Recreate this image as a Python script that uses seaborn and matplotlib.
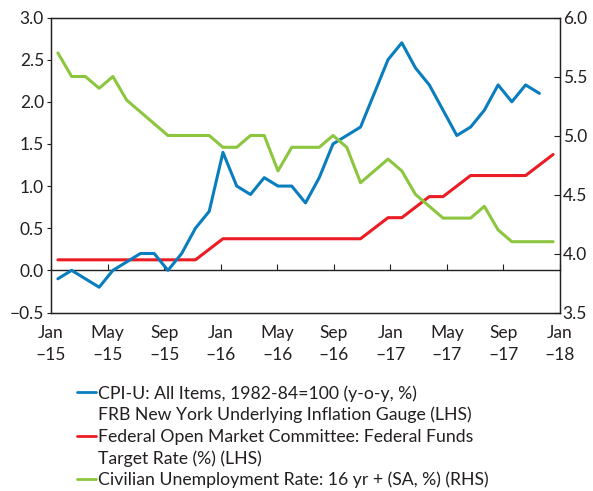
import numpy as np
import pandas as pd
import matplotlib
matplotlib.use("Agg")
import matplotlib.pyplot as plt
from matplotlib.lines import Line2D
import seaborn as sns

# monthly data, Jan-15 .. Jan-18
cpi = [-0.1, 0.0, -0.1, -0.2, 0.0, 0.1, 0.2, 0.2, 0.0, 0.2, 0.5, 0.7,
       1.4, 1.0, 0.9, 1.1, 1.0, 1.0, 0.8, 1.1, 1.5, 1.6, 1.7, 2.1,
       2.5, 2.7, 2.4, 2.2, 1.9, 1.6, 1.7, 1.9, 2.2, 2.0, 2.2, 2.1]
fed_funds = [0.125] * 11 + [0.25] + [0.375] * 11 + [0.5,
             0.625, 0.625, 0.75, 0.875, 0.875, 1.0, 1.125, 1.125, 1.125, 1.125, 1.125, 1.25,
             1.375]
unemp = [5.7, 5.5, 5.5, 5.4, 5.5, 5.3, 5.2, 5.1, 5.0, 5.0, 5.0, 5.0,
         4.9, 4.9, 5.0, 5.0, 4.7, 4.9, 4.9, 4.9, 5.0, 4.9, 4.6, 4.7,
         4.8, 4.7, 4.5, 4.4, 4.3, 4.3, 4.3, 4.4, 4.2, 4.1, 4.1, 4.1,
         4.1]
tick_labels = ["Jan\n\u201315", "May\n\u201315", "Sep\n\u201315", "Jan\n\u201316", "May\n\u201316",
               "Sep\n\u201316", "Jan\n\u201317", "May\n\u201317", "Sep\n\u201317", "Jan\n\u201318"]
legend_labels = ["CPI-U: All Items, 1982-84=100 (y-o-y, %)",
                 "FRB New York Underlying Inflation Gauge (LHS)",
                 "Federal Open Market Committee: Federal Funds",
                 "Target Rate (%) (LHS)",
                 "Civilian Unemployment Rate: 16 yr + (SA, %) (RHS)"]

blue = "#0a7dbe"
red = "#ec1c24"
green = "#8cc63f"
dark = "#231f20"

df_cpi = pd.DataFrame({"m": np.arange(len(cpi)), "v": cpi})
df_fed = pd.DataFrame({"m": np.arange(len(fed_funds)), "v": fed_funds})
df_un = pd.DataFrame({"m": np.arange(len(unemp)), "v": unemp})

sns.set_style("ticks")
plt.rcParams["font.family"] = ["Lato", "DejaVu Sans"]
plt.rcParams["font.size"] = 12.5
plt.rcParams["text.color"] = dark
plt.rcParams["xtick.color"] = dark
plt.rcParams["ytick.color"] = dark

fig = plt.figure(figsize=(5.93, 4.91), dpi=100)
ax = fig.add_axes([51 / 593, 1 - 312.5 / 491, 509 / 593, 295 / 491])

sns.lineplot(data=df_fed, x="m", y="v", ax=ax, color=red, lw=2.2)
sns.lineplot(data=df_cpi, x="m", y="v", ax=ax, color=blue, lw=2.2)

ax2 = ax.twinx()
sns.lineplot(data=df_un, x="m", y="v", ax=ax2, color=green, lw=2.2)

ax.set_xlim(-0.5, 36.5)
ax.set_ylim(-0.5, 3.0)
ax2.set_ylim(3.5, 6.0)
ax.set_yticks(np.arange(-0.5, 3.01, 0.5))
ax.set_yticklabels([f"{t:.1f}".replace("-", "\u2212") for t in np.arange(-0.5, 3.01, 0.5)])
ax2.set_yticks(np.arange(3.5, 6.01, 0.5))
ax2.set_yticklabels([f"{t:.1f}" for t in np.arange(3.5, 6.01, 0.5)])
xt = np.linspace(-0.5, 36.5, 10)
ax.set_xticks(xt)
ax.set_xticklabels(tick_labels, linespacing=1.45)
ax.set_xlabel("")
ax.set_ylabel("")
ax2.set_ylabel("")

ax.tick_params(axis="x", length=0, pad=9)
ax.tick_params(axis="y", direction="out", length=3, width=0.8, pad=2)
ax2.tick_params(axis="y", direction="in", length=4, width=0.8, pad=2)
for a in (ax, ax2):
    for s in a.spines.values():
        s.set_visible(True)
        s.set_color(dark)
        s.set_linewidth(0.9)

# zero line with upward ticks
zero = ax.secondary_xaxis(0.5 / 3.5)
zero.set_xticks(xt)
zero.set_xticklabels([])
zero.tick_params(direction="in", length=4, width=0.8)
zero.spines["bottom"].set_color(dark)
zero.spines["bottom"].set_linewidth(1.0)

handles = [Line2D([], [], color=blue, lw=2), Line2D([], [], color="none"),
           Line2D([], [], color=red, lw=2), Line2D([], [], color="none"),
           Line2D([], [], color=green, lw=2)]
fig.legend(handles, legend_labels, loc="upper left", bbox_to_anchor=(77 / 593, 1 - 385 / 491),
           frameon=False, handlelength=1.05, handletextpad=0.12, labelspacing=0.3,
           borderpad=0, borderaxespad=0, fontsize=12.7)

fig.savefig("out.png", dpi=100)
